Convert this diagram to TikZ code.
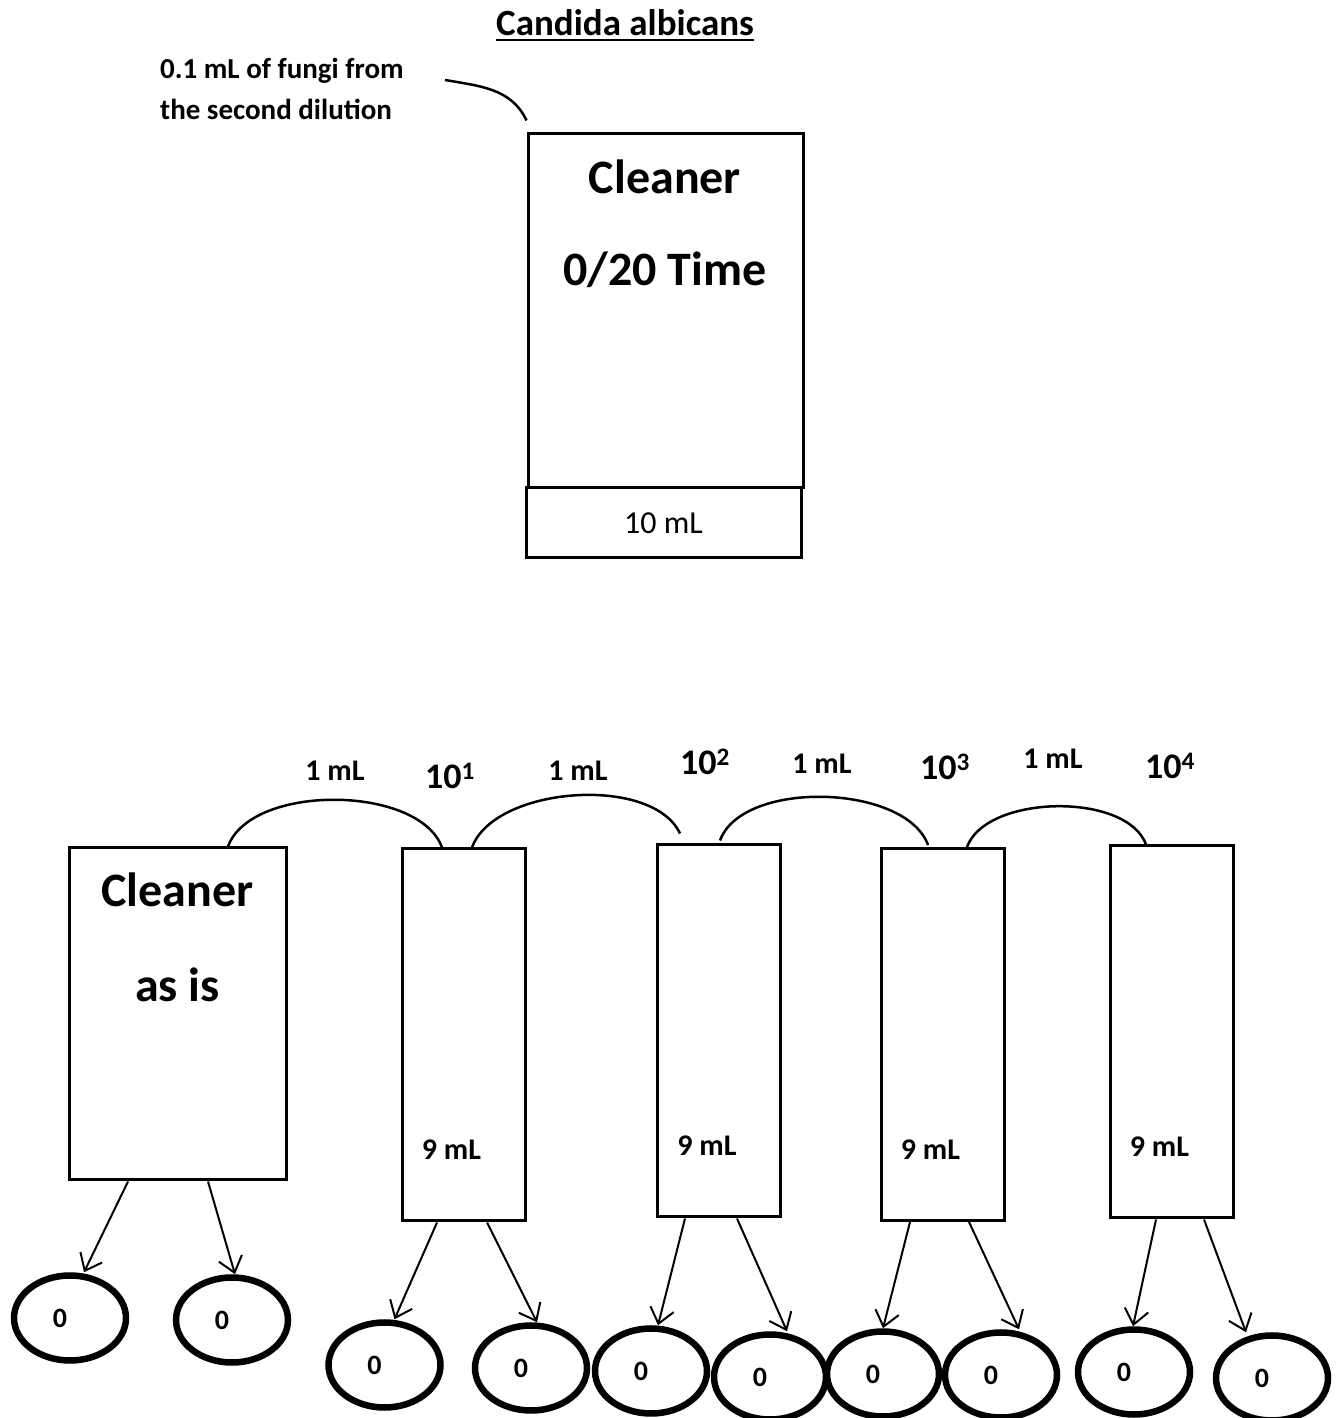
\documentclass[tikz,border=0pt]{standalone}
\usepackage{fontspec}
\setmainfont{Carlito}
\usetikzlibrary{shapes.geometric,positioning,arrows.meta}

\tikzset{
  tube/.style={draw, line width=3pt, minimum width=123pt, minimum height=372pt},
  dish/.style={draw, ellipse, line width=6.5pt, minimum width=112pt, minimum height=85pt,
               font=\fontsize{28}{34}\selectfont\bfseries, execute at begin node={\hspace*{-20pt}}},
  pour/.style={line width=2.5pt},
  plate/.style={-{Straight Barb[length=15pt,width=24pt]}, line width=2pt},
  big/.style={font=\fontsize{48}{58}\selectfont\bfseries},
  vol/.style={font=\fontsize{30}{36}\selectfont\bfseries},
  dil/.style={font=\fontsize{36}{44}\selectfont\bfseries},
}

\begin{document}
\begin{tikzpicture}[x=1pt,y=1pt]
\useasboundingbox (0,0) rectangle (1336,1418);

% title and note
\node[anchor=base, inner sep=0pt, font=\fontsize{37}{44}\selectfont\bfseries] (title) at (625,1382) {Candida albicans};
\draw[line width=2.5pt] ([yshift=-4pt]title.base west) -- ([yshift=-4pt]title.base east);
\node[anchor=west, inner sep=0pt, align=left, font=\fontsize{29}{41}\selectfont\bfseries] (note) at (160,1329)
      {0.1 mL of fungi from\\the second dilution};
\coordinate (pick) at (445,1338);

% cleaner, 0/20 time
\node[draw, line width=3pt, minimum width=275pt, minimum height=354pt] (top) at (665.5,1107) {};
\node[draw, line width=3pt, minimum width=275pt, minimum height=70pt, below=-3pt of top, xshift=-2pt,
      font=\fontsize{32}{38}\selectfont] (vol0) {10 mL};
\node[big] (cl) at (665,1241) {Cleaner};
\node[big] (tm) at (665,1148) {0/20 Time};
\draw[pour] (pick) to[out=-10,in=115] ([yshift=12pt]top.north west);

% dilution row
\node[draw, line width=3pt, minimum width=217pt, minimum height=332pt] (stock) at (177.5,404) {};
\node[big] (cl2) at (177.5,528) {Cleaner};
\node[big] (asis) at (177.5,433) {as is};

\node[tube] (t1) at (463.5,383) {};
\node[tube] (t2) at (719,387) {};
\node[tube] (t3) at (942.5,383.5) {};
\node[tube] (t4) at (1171.5,386) {};

\node[vol] (v1) at ([shift={(-12,-115)}]t1.center) {9 mL};
\node[vol] (v2) at ([shift={(-12,-115)}]t2.center) {9 mL};
\node[vol] (v3) at ([shift={(-12,-115)}]t3.center) {9 mL};
\node[vol] (v4) at ([shift={(-12,-115)}]t4.center) {9 mL};

\node[vol] (m1) at (335,647) {1 mL};
\node[dil] (d1) at (450,642) {10\textsuperscript{1}};
\node[vol] (m2) at (578,647) {1 mL};
\node[dil] (d2) at (705,656) {10\textsuperscript{2}};
\node[vol] (m3) at (822,654) {1 mL};
\node[dil] (d3) at (945,651) {10\textsuperscript{3}};
\node[vol] (m4) at (1053,659) {1 mL};
\node[dil] (d4) at (1170,652) {10\textsuperscript{4}};

\draw[pour] ([xshift=50.5pt]stock.north) to[out=70,in=110,looseness=0.8] ([xshift=-21.5pt]t1.north);
\draw[pour] ([xshift=8.5pt]t1.north) to[out=70,in=115,looseness=0.8] ([xshift=-39pt,yshift=10pt]t2.north);
\draw[pour] ([xshift=1pt,yshift=3pt]t2.north) to[out=70,in=110,looseness=0.8] ([xshift=-14.5pt,yshift=2pt]t3.north);
\draw[pour] ([xshift=24.5pt]t3.north) to[out=70,in=110,looseness=0.8] ([xshift=-25.5pt]t4.north);

% plates
\node[dish] (p0a) at (70,100) {0};
\node[dish] (p0b) at (232,98) {0};
\node[dish] (p1a) at (384.5,53) {0};
\node[dish] (p1b) at (531,50) {0};
\node[dish] (p2a) at (651,47) {0};
\node[dish] (p2b) at (770,41) {0};
\node[dish] (p3a) at (883,44) {0};
\node[dish] (p3b) at (1001,43) {0};
\node[dish] (p4a) at (1134,46) {0};
\node[dish] (p4b) at (1272,40) {0};

\draw[plate] ([xshift=-49.5pt]stock.south) -- ([xshift=14pt]p0a.north);
\draw[plate] ([xshift=30.5pt]stock.south) -- ([xshift=3pt]p0b.north);
\draw[plate] ([xshift=-26.5pt]t1.south) -- ([xshift=10pt]p1a.north);
\draw[plate] ([xshift=23.5pt]t1.south) -- ([xshift=6pt]p1b.north);
\draw[plate] ([xshift=-34pt]t2.south) -- ([xshift=7pt]p2a.north);
\draw[plate] ([xshift=18pt]t2.south) -- ([xshift=17pt]p2b.north);
\draw[plate] ([xshift=-32.5pt]t3.south) -- ([xshift=0pt]p3a.north);
\draw[plate] ([xshift=26.5pt]t3.south) -- ([xshift=18pt]p3b.north);
\draw[plate] ([xshift=-15.5pt]t4.south) -- ([xshift=-1pt]p4a.north);
\draw[plate] ([xshift=32.5pt]t4.south) -- ([xshift=-26pt]p4b.north);
\end{tikzpicture}
\end{document}
